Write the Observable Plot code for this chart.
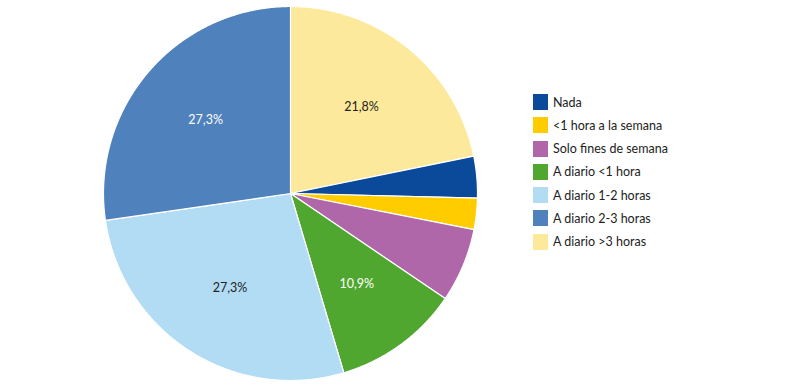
<!DOCTYPE html>
<html><head><meta charset="utf-8">
<script src="https://cdn.jsdelivr.net/npm/d3@7"></script>
<script src="https://cdn.jsdelivr.net/npm/@observablehq/plot@0.6"></script>
<style>
body{margin:0;background:#fff;font-family:Lato,"Open Sans",sans-serif;}
#wrap{position:relative;width:800px;height:389px;}
#legend{position:absolute;left:533px;top:94px;}
.row{position:absolute;left:0;display:flex;align-items:center;white-space:nowrap;font-size:12.5px;color:#222;}
.sw{width:15px;height:16px;margin-right:5px;}
</style>
</head><body>
<div id="wrap"><div id="legend"></div></div>
<script>
const categories = ["Nada","<1 hora a la semana","Solo fines de semana","A diario <1 hora","A diario 1-2 horas","A diario 2-3 horas","A diario >3 horas"];
const values = [3.6, 2.7, 6.4, 10.9, 27.3, 27.3, 21.8];
const colors = ["#0b4a9b","#ffcc00","#b067a9","#4fa72f","#b1dcf4","#4f81bd","#fde99b"];
const labels = ["","","","10,9%","27,3%","27,3%","21,8%"];
const labelColors = ["","","","white","#222","white","#222"];
const pieOrder = [6,0,1,2,3,4,5];

const R = 187, cx = 290, cy = 193, W = 800, H = 389;
const total = d3.sum(values);
const rows = [], labelRows = [];
let a0 = 0;
for (const i of pieOrder) {
  const span = values[i] / total * 2 * Math.PI;
  const a1 = a0 + span;
  rows.push({cat: categories[i], u: 0, v: 0});
  const n = Math.max(4, Math.ceil(span / 0.005));
  for (let k = 0; k <= n; k++) {
    const t = a0 + span * k / n;
    rows.push({cat: categories[i], u: Math.sin(t), v: Math.cos(t)});
  }
  if (labels[i]) {
    const m = (a0 + a1) / 2, r = 0.6;
    labelRows.push({u: r * Math.sin(m), v: r * Math.cos(m), text: labels[i], col: labelColors[i]});
  }
  a0 = a1;
}

const chart = Plot.plot({
  width: W, height: H, margin: 0,
  x: {domain: [-cx / R, (W - cx) / R], axis: null},
  y: {domain: [-(H - cy) / R, cy / R], axis: null},
  color: {domain: categories, range: colors},
  style: {fontFamily: "Lato, 'Open Sans', sans-serif", background: "white"},
  marks: [
    Plot.line(rows, {x: "u", y: "v", z: "cat", fill: "cat", stroke: "white", strokeWidth: 1.2, curve: "linear-closed"}),
    Plot.text(labelRows.filter(d => d.col === "white"), {x: "u", y: "v", text: "text", fill: "white", fontSize: 12.5}),
    Plot.text(labelRows.filter(d => d.col !== "white"), {x: "u", y: "v", text: "text", fill: "#222", fontSize: 12.5})
  ]
});
document.getElementById("wrap").prepend(chart);

const legend = document.getElementById("legend");
categories.forEach((c, i) => {
  const row = document.createElement("div");
  row.className = "row";
  row.style.top = (i * 23.25) + "px";
  const sw = document.createElement("div");
  sw.className = "sw";
  sw.style.background = colors[i];
  const tx = document.createElement("span");
  tx.textContent = c;
  row.append(sw, tx);
  legend.append(row);
});
</script>
</body></html>
